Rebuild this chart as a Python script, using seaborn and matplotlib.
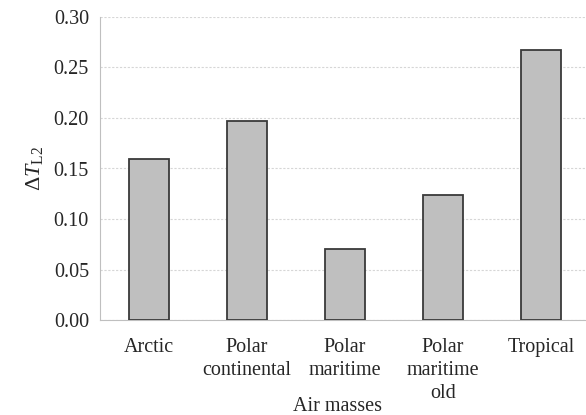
import numpy as np
import pandas as pd
import matplotlib
matplotlib.use('Agg')
import matplotlib.pyplot as plt
import seaborn as sns

# data
air_masses = ['Arctic', 'Polar\ncontinental', 'Polar\nmaritime', 'Polar\nmaritime\nold', 'Tropical']
delta_t = [0.159, 0.197, 0.070, 0.124, 0.267]
y_ticks = [0.00, 0.05, 0.10, 0.15, 0.20, 0.25, 0.30]

df = pd.DataFrame({'mass': air_masses, 'dt': delta_t})

sns.set_style('white')
plt.rcParams['font.family'] = ['Liberation Serif', 'DejaVu Serif']
plt.rcParams['mathtext.fontset'] = 'custom'
plt.rcParams['mathtext.rm'] = 'Liberation Serif'
plt.rcParams['mathtext.it'] = 'Liberation Serif:italic'

fig = plt.figure(figsize=(5.86, 4.15), dpi=100)
ax = fig.add_axes([100 / 586, 1 - 320 / 415, 490 / 586, 303 / 415])

sns.barplot(data=df, x='mass', y='dt', color='#bfbfbf', edgecolor='#3a3a3a',
            linewidth=1.3, width=0.41, saturation=1, ax=ax, zorder=3)

ax.set_ylim(0, 0.30)
ax.set_yticks(y_ticks)
ax.set_yticklabels([f'{v:.2f}' for v in y_ticks], fontsize=14.5)
ax.set_xlim(-0.5, len(air_masses) - 0.5)
ax.set_xticks(np.arange(len(air_masses)))
ax.set_xticklabels(air_masses, fontsize=14.5, linespacing=1.3, va='top')
ax.set_xticks([-0.5] + list(np.arange(len(air_masses)) + 0.5), minor=True)
ax.tick_params(axis='x', which='major', length=0, pad=13)
ax.tick_params(axis='x', which='minor', length=5, color='#bfbfbf', width=1)
ax.tick_params(axis='y', length=4, color='#bfbfbf', width=1, pad=4)

ax.yaxis.grid(True, linestyle=(0, (2, 1.5)), color='#d6d6d6', linewidth=0.8, zorder=0)
ax.set_axisbelow(True)

for side in ['top', 'right']:
    ax.spines[side].set_visible(False)
ax.spines['left'].set_color('#bfbfbf')
ax.spines['bottom'].set_color('#bfbfbf')

ax.set_xlabel('Air masses', fontsize=14.5)
ax.xaxis.set_label_coords(0.485, -0.255)
ax.set_ylabel(r'$\Delta T_{\mathrm{L2}}$', fontsize=16, labelpad=6)

fig.savefig('out.png', dpi=100)
